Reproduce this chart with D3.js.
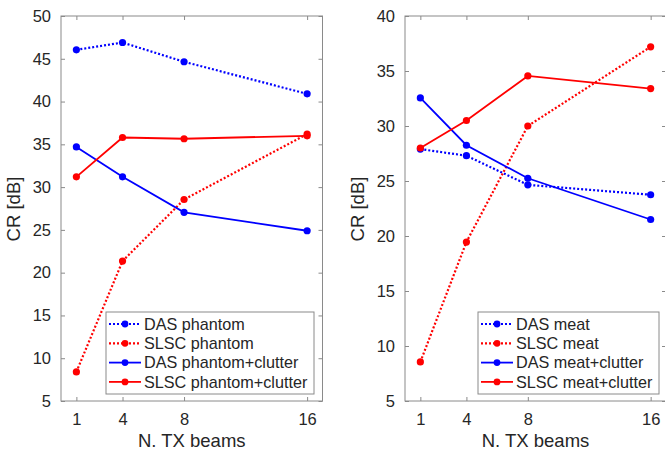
<!DOCTYPE html>
<html>
<head>
<meta charset="utf-8">
<script src="https://cdn.jsdelivr.net/npm/d3@7"></script>
<style>
  body { margin: 0; background: #fff; }
  svg text { font-family: "Liberation Sans", Arial, Helvetica, sans-serif; fill: #262626; }
</style>
</head>
<body>
<div id="chart"></div>
<script>
// number of TX beams (x)
let beams = [1, 4, 8, 16];

// left panel: phantom
let dasPhantom = [46.05, 46.9, 44.65, 40.9];
let slscPhantom = [8.4, 21.35, 28.55, 36.2];
let dasPhantomClutter = [34.7, 31.2, 27.05, 24.9];
let slscPhantomClutter = [31.2, 35.8, 35.65, 36.0];

// right panel: meat
let dasMeat = [27.9, 27.3, 24.65, 23.75];
let slscMeat = [8.55, 19.45, 30.0, 37.2];
let dasMeatClutter = [32.55, 28.25, 25.25, 21.5];
let slscMeatClutter = [28.0, 30.5, 34.55, 33.4];

let leftTicks = [5, 10, 15, 20, 25, 30, 35, 40, 45, 50];
let rightTicks = [5, 10, 15, 20, 25, 30, 35, 40];

let width = 665, height = 451;

let svg = d3.select("#chart")
    .append("svg")
    .attr("width", width)
    .attr("height", height);

function drawPanel(opts) {
    let g = svg.append("g");

    let x = d3.scaleLinear().domain([0, 17]).range([opts.left, opts.right]);
    let y = d3.scaleLinear().domain(opts.yDomain).range([401, 16]);

    // box
    g.append("rect")
        .attr("x", opts.left).attr("y", 16)
        .attr("width", opts.right - opts.left).attr("height", 385)
        .attr("fill", "#fff").attr("stroke", "#8a8a8a").attr("stroke-width", 1);

    // axes with inward ticks on all four sides
    let axL = g.append("g").attr("transform", `translate(${opts.left},0)`)
        .call(d3.axisLeft(y).tickValues(opts.yTicks).tickSizeInner(-4).tickSizeOuter(0).tickPadding(10));
    let axR = g.append("g").attr("transform", `translate(${opts.right},0)`)
        .call(d3.axisRight(y).tickValues(opts.yTicks).tickSizeInner(-4).tickSizeOuter(0).tickFormat(""));
    let axB = g.append("g").attr("transform", `translate(0,401)`)
        .call(d3.axisBottom(x).tickValues(beams).tickSizeInner(-4).tickSizeOuter(0).tickPadding(12));
    let axT = g.append("g").attr("transform", `translate(0,16)`)
        .call(d3.axisTop(x).tickValues(beams).tickSizeInner(-4).tickSizeOuter(0).tickFormat(""));

    [axL, axR, axB, axT].forEach(function(a) {
        a.select(".domain").remove();
        a.selectAll("line").attr("stroke", "#8a8a8a");
        a.selectAll("text").style("font-size", "16.5px").attr("fill", "#262626");
    });

    // axis labels
    g.append("text")
        .attr("transform", `translate(${opts.left - 41},${209}) rotate(-90)`)
        .style("text-anchor", "middle")
        .style("font-size", "18.5px")
        .text("CR [dB]");
    g.append("text")
        .attr("x", (x(0) + x(17)) / 2)
        .attr("y", 447)
        .style("text-anchor", "middle")
        .style("font-size", "18.5px")
        .text("N. TX beams");

    let line = d3.line()
        .x(function(d, i) { return x(beams[i]); })
        .y(function(d) { return y(d); });

    opts.series.forEach(function(s) {
        g.append("path")
            .datum(s.values)
            .attr("d", line)
            .attr("fill", "none")
            .attr("stroke", s.color)
            .attr("stroke-width", s.dotted ? 2.2 : 1.8)
            .attr("stroke-dasharray", s.dotted ? "2,2" : null);
        g.selectAll(null)
            .data(s.values)
            .enter()
            .append("circle")
            .attr("cx", function(d, i) { return x(beams[i]); })
            .attr("cy", function(d) { return y(d); })
            .attr("r", 3.6)
            .attr("fill", s.color);
    });

    // legend
    let lg = g.append("g");
    lg.append("rect")
        .attr("x", opts.legend.x).attr("y", 312)
        .attr("width", opts.legend.w).attr("height", 82)
        .attr("fill", "#fff").attr("stroke", "#8a8a8a").attr("stroke-width", 1);
    opts.series.forEach(function(s, i) {
        let ly = 324 + i * 19.3;
        let lx = opts.legend.x + 3;
        lg.append("line")
            .attr("x1", lx).attr("x2", lx + 32)
            .attr("y1", ly).attr("y2", ly)
            .attr("stroke", s.color)
            .attr("stroke-width", s.dotted ? 2.2 : 1.8)
            .attr("stroke-dasharray", s.dotted ? "2,2" : null);
        lg.append("circle")
            .attr("cx", lx + 16).attr("cy", ly).attr("r", 3.4)
            .attr("fill", s.color);
        lg.append("text")
            .attr("x", lx + 35).attr("y", ly + 5.8)
            .style("font-size", "16.2px")
            .text(s.name);
    });
}

drawPanel({
    left: 61, right: 322.5,
    yDomain: [5, 50], yTicks: leftTicks,
    legend: { x: 106, w: 208 },
    series: [
        { name: "DAS phantom", values: dasPhantom, color: "#0000ff", dotted: true },
        { name: "SLSC phantom", values: slscPhantom, color: "#ff0000", dotted: true },
        { name: "DAS phantom+clutter", values: dasPhantomClutter, color: "#0000ff", dotted: false },
        { name: "SLSC phantom+clutter", values: slscPhantomClutter, color: "#ff0000", dotted: false }
    ]
});

drawPanel({
    left: 405, right: 666,
    yDomain: [5, 40], yTicks: rightTicks,
    legend: { x: 478, w: 181 },
    series: [
        { name: "DAS meat", values: dasMeat, color: "#0000ff", dotted: true },
        { name: "SLSC meat", values: slscMeat, color: "#ff0000", dotted: true },
        { name: "DAS meat+clutter", values: dasMeatClutter, color: "#0000ff", dotted: false },
        { name: "SLSC meat+clutter", values: slscMeatClutter, color: "#ff0000", dotted: false }
    ]
});
</script>
</body>
</html>
